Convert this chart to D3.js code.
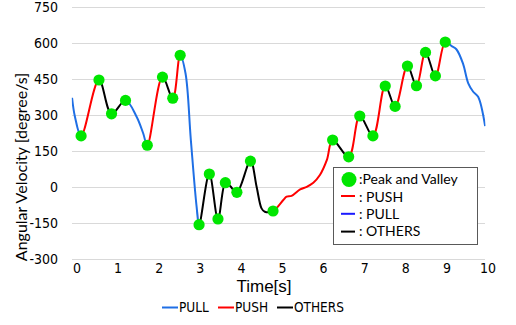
<!DOCTYPE html>
<html>
<head>
<meta charset="utf-8">
<script src="https://cdn.jsdelivr.net/npm/d3@7"></script>
<style>
    html, body { margin: 0; padding: 0; background: #fff; }
    svg { display: block; }
</style>
</head>
<body>
<div id="chart"></div>
<script>
// time [s] and angular velocity [degree/s] of the traced curve
const time = [-0.12, -0.05, 0.10, 0.535, 0.84, 1.18, 1.45, 1.61, 1.71, 2.08,
    2.33, 2.51, 2.64, 2.77, 2.91, 2.97, 3.22, 3.43, 3.61, 3.72,
    3.89, 4.22, 4.37, 4.49, 4.57, 4.77, 5.02, 5.10, 5.22, 5.43,
    5.59, 5.75, 5.91, 6.08, 6.22, 6.61, 6.88, 7.20, 7.50, 7.74,
    8.04, 8.26, 8.48, 8.72, 8.96, 9.11, 9.23, 9.39, 9.52, 9.64,
    9.76, 9.93];
const velocity = [374, 295, 215, 448, 307, 363, 295, 226, 176, 460,
    372, 551, 476, 198, -80, -155, 56, -131, 20, 7,
    -20, 110, 3, -87, -101, -98, -52, -38, -35, -8,
    3, 20, 52, 115, 198, 128, 298, 215, 423, 338,
    506, 424, 563, 465, 606, 590, 576, 517, 434, 399,
    378, 256];
// phase of the stretch that ends at each point (first one unused)
const phase = ["", "PULL", "PULL", "PUSH", "OTHERS", "OTHERS", "PULL", "PULL", "PULL", "PUSH",
    "OTHERS", "PUSH", "PULL", "PULL", "PULL", "PULL", "OTHERS", "OTHERS", "OTHERS", "OTHERS",
    "OTHERS", "OTHERS", "OTHERS", "OTHERS", "OTHERS", "OTHERS", "PUSH", "PUSH", "PUSH", "PUSH",
    "PUSH", "PUSH", "PUSH", "PUSH", "PUSH", "OTHERS", "PUSH", "OTHERS", "PUSH", "OTHERS",
    "PUSH", "OTHERS", "PUSH", "OTHERS", "PUSH", "PULL", "PULL", "PULL", "PULL", "PULL",
    "PULL", "PULL"];
// indexes of the points marked as peak / valley
const peakIndex = [2, 3, 4, 5, 8, 9, 10, 11, 15, 16, 17, 18, 20, 21, 25,
    34, 35, 36, 37, 38, 39, 40, 41, 42, 43, 44];

const yTicks = [-300, -150, 0, 150, 300, 450, 600, 750];
const xTicks = [0, 1, 2, 3, 4, 5, 6, 7, 8, 9, 10];
const phases = ["PULL", "PUSH", "OTHERS"];

const width = 516;
const height = 325;
const plotLeft = 72;
const plotRight = 485;

const phaseColor = { PULL: "#1f6fe5", PUSH: "#ff0000", OTHERS: "#000000" };
const boxColor = { PUSH: "#ff0000", PULL: "#1a1aff", OTHERS: "#000000" };
const dotColor = "#00e600";
const tickFont = "'DejaVu Sans Condensed', 'DejaVu Sans', sans-serif";

const x = d3.scaleLinear().domain([0, 10]).range([77, 488]);
const y = d3.scaleLinear().domain([-300, 750]).range([259.5, 7.5]);

const points = time.map((t, i) => ({ t, v: velocity[i], phase: phase[i] }));

const svg = d3.select("#chart")
    .append("svg")
    .attr("width", width)
    .attr("height", height);

// gridlines
svg.append("g")
    .selectAll("line")
    .data(yTicks)
    .enter()
    .append("line")
    .attr("x1", plotLeft)
    .attr("x2", plotRight)
    .attr("y1", d => y(d))
    .attr("y2", d => y(d))
    .attr("stroke", "#d9d9d9")
    .attr("stroke-width", 1);

// y tick labels
svg.append("g")
    .selectAll("text")
    .data(yTicks)
    .enter()
    .append("text")
    .attr("x", 58)
    .attr("y", d => y(d))
    .attr("dy", "0.35em")
    .attr("text-anchor", "end")
    .attr("font-family", tickFont)
    .attr("font-size", 14)
    .text(d => d);

// x tick labels
svg.append("g")
    .selectAll("text")
    .data(xTicks)
    .enter()
    .append("text")
    .attr("x", d => x(d))
    .attr("y", 268.5)
    .attr("dy", "0.35em")
    .attr("text-anchor", "middle")
    .attr("font-family", tickFont)
    .attr("font-size", 14)
    .text(d => d);

// axis titles
svg.append("text")
    .attr("x", 264)
    .attr("y", 292)
    .attr("text-anchor", "middle")
    .attr("font-family", "'Liberation Sans', Arial, sans-serif")
    .attr("font-size", 17)
    .text("Time[s]");

svg.append("text")
    .attr("transform", "translate(27, 167) rotate(-90)")
    .attr("text-anchor", "middle")
    .attr("font-family", "Lato, 'Open Sans', sans-serif")
    .attr("font-size", 16)
    .text("Angular Velocity [degree/s]");

// one smooth curve, coloured stretch by stretch through clip rectangles
const line = d3.line()
    .x(d => x(d.t))
    .y(d => y(d.v))
    .curve(d3.curveCatmullRom.alpha(0.5));

const defs = svg.append("defs");
phases.forEach(p => {
    const clip = defs.append("clipPath").attr("id", "clip-" + p);
    points.forEach((d, i) => {
        if (i === 0 || d.phase !== p) return;
        const x0 = x(points[i - 1].t);
        const x1 = x(d.t);
        clip.append("rect")
            .attr("x", x0 - 0.3)
            .attr("y", 0)
            .attr("width", x1 - x0 + 0.6)
            .attr("height", height);
    });
});

svg.append("g")
    .selectAll("path")
    .data(phases)
    .enter()
    .append("path")
    .attr("d", line(points))
    .attr("fill", "none")
    .attr("stroke", p => phaseColor[p])
    .attr("stroke-width", 2)
    .attr("clip-path", p => `url(#clip-${p})`);

// peaks and valleys
svg.append("g")
    .selectAll("circle")
    .data(peakIndex.map(i => points[i]))
    .enter()
    .append("circle")
    .attr("cx", d => x(d.t))
    .attr("cy", d => y(d.v))
    .attr("r", 5.6)
    .attr("fill", dotColor);

// legend box inside the plot
const box = svg.append("g").attr("transform", "translate(333, 167)");
box.append("rect")
    .attr("x", 0.5)
    .attr("y", 0.5)
    .attr("width", 144)
    .attr("height", 77)
    .attr("fill", "#fff")
    .attr("stroke", "#595959")
    .attr("stroke-width", 1);

box.append("circle")
    .attr("cx", 16)
    .attr("cy", 12.5)
    .attr("r", 7.5)
    .attr("fill", dotColor);

const boxItems = ["PUSH", "PULL", "OTHERS"];
box.selectAll(".box-line")
    .data(boxItems)
    .enter()
    .append("line")
    .attr("class", "box-line")
    .attr("x1", 8)
    .attr("x2", 22)
    .attr("y1", (d, i) => 29 + i * 17.8)
    .attr("y2", (d, i) => 29 + i * 17.8)
    .attr("stroke", d => boxColor[d])
    .attr("stroke-width", 2);

box.selectAll(".box-text")
    .data([":Peak and Valley", ...boxItems.map(d => ": " + d)])
    .enter()
    .append("text")
    .attr("class", "box-text")
    .attr("x", 26)
    .attr("y", (d, i) => 12.5 + i * 17.2)
    .attr("dy", "0.35em")
    .attr("font-family", "Lato, 'Open Sans', sans-serif")
    .attr("font-size", 14)
    .text(d => d);

// legend under the chart
const legendX = [162, 218, 277];
const legend = svg.append("g")
    .selectAll("g")
    .data(phases)
    .enter()
    .append("g")
    .attr("transform", (d, i) => `translate(${legendX[i]}, 307.5)`);

legend.append("line")
    .attr("x1", 0)
    .attr("x2", 16)
    .attr("stroke", d => phaseColor[d])
    .attr("stroke-width", 2);

legend.append("text")
    .attr("x", 17)
    .attr("dy", "0.35em")
    .attr("font-family", tickFont)
    .attr("font-size", 13.5)
    .text(d => d);
</script>
</body>
</html>
